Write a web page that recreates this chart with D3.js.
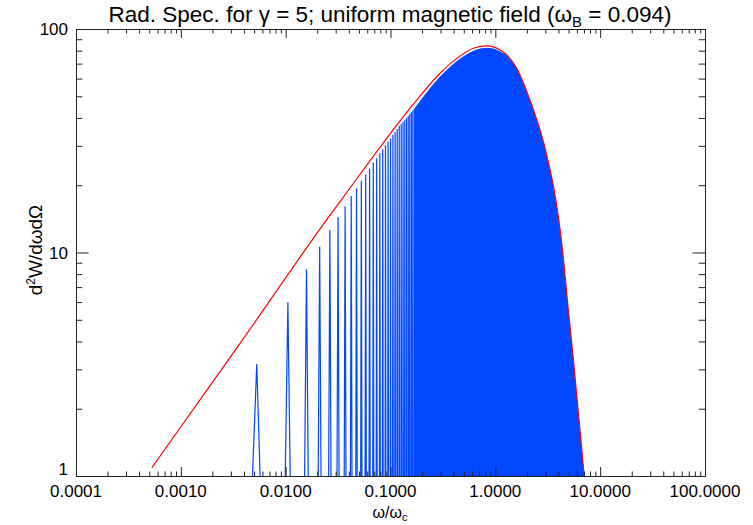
<!DOCTYPE html>
<html>
<head>
<meta charset="utf-8">
<script src="https://cdn.jsdelivr.net/npm/d3@7"></script>
<style>
  body { margin: 0; background: #fff; }
  text { font-family: "Liberation Sans", Arial, Helvetica, sans-serif; fill: #000; }
</style>
</head>
<body>
<svg id="chart" width="753" height="525"></svg>
<script>
// spectrum (log-log)

// red envelope curve
var envX = [0.00053, 0.00367, 0.0265, 0.033, 0.178, 0.297, 0.43, 0.618, 0.83, 1.11, 1.29, 1.60, 2.00, 2.49, 2.98, 4.37, 4.92, 5.56, 7.05];
var envY = [1.09, 3.92, 14.7, 16.9, 48.1, 63.4, 73.9, 82.0, 84.0, 80.5, 76.5, 66.7, 52.4, 39.2, 29.3, 10.3, 5.82, 3.30, 1.0];

// individual harmonic spikes (position, peak height)
var spikeX = [0.0053, 0.0105, 0.0158, 0.0211, 0.0264, 0.0316, 0.0369, 0.0422, 0.0474, 0.0527,
              0.0580, 0.0632, 0.0685, 0.0738, 0.0791, 0.0843, 0.0896, 0.0949, 0.1001, 0.1054,
              0.1107, 0.1159, 0.1212, 0.1265, 0.1318, 0.1370, 0.1423, 0.1476, 0.1528, 0.1581,
              0.1634, 0.1686];
var spikeY = [3.17, 5.99, 8.41, 10.6, 12.6, 14.4, 16.1, 17.9, 19.4, 20.9,
              22.4, 23.7, 25.2, 26.4, 27.8, 29.0, 30.2, 31.3, 32.4, 33.6,
              34.6, 35.7, 36.8, 37.6, 38.5, 39.3, 40.1, 40.9, 41.7, 42.5,
              43.2, 44.0];

// dense part where the harmonics merge into a solid band
var bandX = [0.1686, 0.297, 0.43, 0.618, 0.83, 1.11, 1.29, 1.60, 2.00, 2.49, 2.98, 4.37, 4.92, 5.56, 7.05];
var bandY = [44.0, 61.3, 71.9, 80.0, 82.4, 79.6, 76.0, 66.6, 52.4, 39.2, 29.3, 10.3, 5.82, 3.30, 1.0];

var xTicks = [0.0001, 0.001, 0.01, 0.1, 1, 10, 100];
var yTicks = [1, 10, 100];

var svg = d3.select("#chart");
var pLeft = 76, pRight = 705, pTop = 29, pBottom = 476;
var blue = "#0047ff";

var x = d3.scaleLog().domain([1e-4, 100]).range([pLeft, pRight]);
var y = d3.scaleLog().domain([1, 100]).range([pBottom, pTop]);

svg.append("clipPath").attr("id", "plotclip")
        .append("rect")
        .attr("x", pLeft).attr("y", pTop)
        .attr("width", pRight - pLeft).attr("height", pBottom - pTop);

var plot = svg.append("g").attr("clip-path", "url(#plotclip)");

// spikes drawn as thin triangles going down below the axis
var spikeBase = 0.0013, spikeFloor = 0.1;
var spikeLine = d3.line().x(function(d) { return x(d[0]); }).y(function(d) { return y(d[1]); });
for (var i = 0; i < spikeX.length; i++) {
        var pts = [[spikeX[i] - spikeBase, spikeFloor], [spikeX[i], spikeY[i]], [spikeX[i] + spikeBase, spikeFloor]];
        plot.append("path")
                .attr("d", spikeLine(pts))
                .attr("fill", "none")
                .attr("stroke", blue)
                .attr("stroke-width", 1.2);
}

// solid band
var band = bandX.map(function(v, i) { return [v, bandY[i]]; });
plot.append("path")
        .attr("d", d3.area()
                .x(function(d) { return x(d[0]); })
                .y0(pBottom)
                .y1(function(d) { return y(d[1]); })
                .curve(d3.curveMonotoneX)(band))
        .attr("fill", blue);

// red envelope
var env = envX.map(function(v, i) { return [v, envY[i]]; });
plot.append("path")
        .attr("d", d3.line()
                .x(function(d) { return x(d[0]); })
                .y(function(d) { return y(d[1]); })
                .curve(d3.curveMonotoneX)(env))
        .attr("fill", "none")
        .attr("stroke", "#ff0000")
        .attr("stroke-width", 1.2);

// minor tick values for the log axes
function minors(lo, hi) {
        var out = [];
        for (var d = lo; d < hi; d *= 10)
                for (var k = 2; k <= 9; k++) out.push(d * k);
        return out;
}
var xMinor = minors(1e-4, 100);
var yMinor = minors(1, 100);

// axes, ticks pointing inwards like IDL
function drawAxis(axisFn, scale, majors, minorVals, majLen, minLen, tx, ty) {
        var g = svg.append("g").attr("transform", "translate(" + tx + "," + ty + ")");
        g.call(axisFn(scale).tickValues(majors).tickSize(-majLen).tickSizeOuter(0).tickFormat(""));
        g.append("g").call(axisFn(scale).tickValues(minorVals).tickSize(-minLen).tickSizeOuter(0).tickFormat(""))
                .select(".domain").remove();
        g.selectAll("line").attr("stroke", "#222");
        g.selectAll(".domain").attr("stroke", "#222");
        return g;
}
drawAxis(d3.axisBottom, x, xTicks, xMinor, 9, 4.5, 0, pBottom);
drawAxis(d3.axisTop, x, xTicks, xMinor, 9, 4.5, 0, pTop);
drawAxis(d3.axisLeft, y, yTicks, yMinor, 12.6, 6.3, pLeft, 0);
drawAxis(d3.axisRight, y, yTicks, yMinor, 12.6, 6.3, pRight, 0);

// tick labels
var fmt = d3.format(".4f");
svg.selectAll(".xlab").data(xTicks).enter().append("text")
        .attr("class", "xlab")
        .attr("x", function(d) { return x(d); })
        .attr("y", 497)
        .attr("text-anchor", "middle")
        .attr("font-size", "17px")
        .text(function(d) { return fmt(d); });

svg.selectAll(".ylab").data(yTicks).enter().append("text")
        .attr("class", "ylab")
        .attr("x", 68)
        .attr("y", function(d) { return Math.min(y(d) + 6, 475); })
        .attr("text-anchor", "end")
        .attr("font-size", "17px")
        .text(function(d) { return d; });

// title
var title = svg.append("text")
        .attr("x", 390).attr("y", 22)
        .attr("text-anchor", "middle")
        .attr("font-size", "22.5px");
title.append("tspan").text("Rad. Spec. for \u03b3 = 5; uniform magnetic field (\u03c9");
title.append("tspan").attr("font-size", "15px").attr("dy", 5).text("B");
title.append("tspan").attr("dy", -5).text(" = 0.094)");

// x label
var xl = svg.append("text")
        .attr("x", 390).attr("y", 518)
        .attr("text-anchor", "middle")
        .attr("font-size", "16px");
xl.append("tspan").text("\u03c9/\u03c9");
xl.append("tspan").attr("font-size", "11px").attr("dy", 3).text("c");

// y label
var yl = svg.append("text")
        .attr("transform", "translate(42,250) rotate(-90)")
        .attr("text-anchor", "middle")
        .attr("font-size", "19px");
yl.append("tspan").text("d");
yl.append("tspan").attr("font-size", "12px").attr("dy", -7).text("2");
yl.append("tspan").attr("dy", 7).text("W/d\u03c9d\u03a9");
</script>
</body>
</html>
